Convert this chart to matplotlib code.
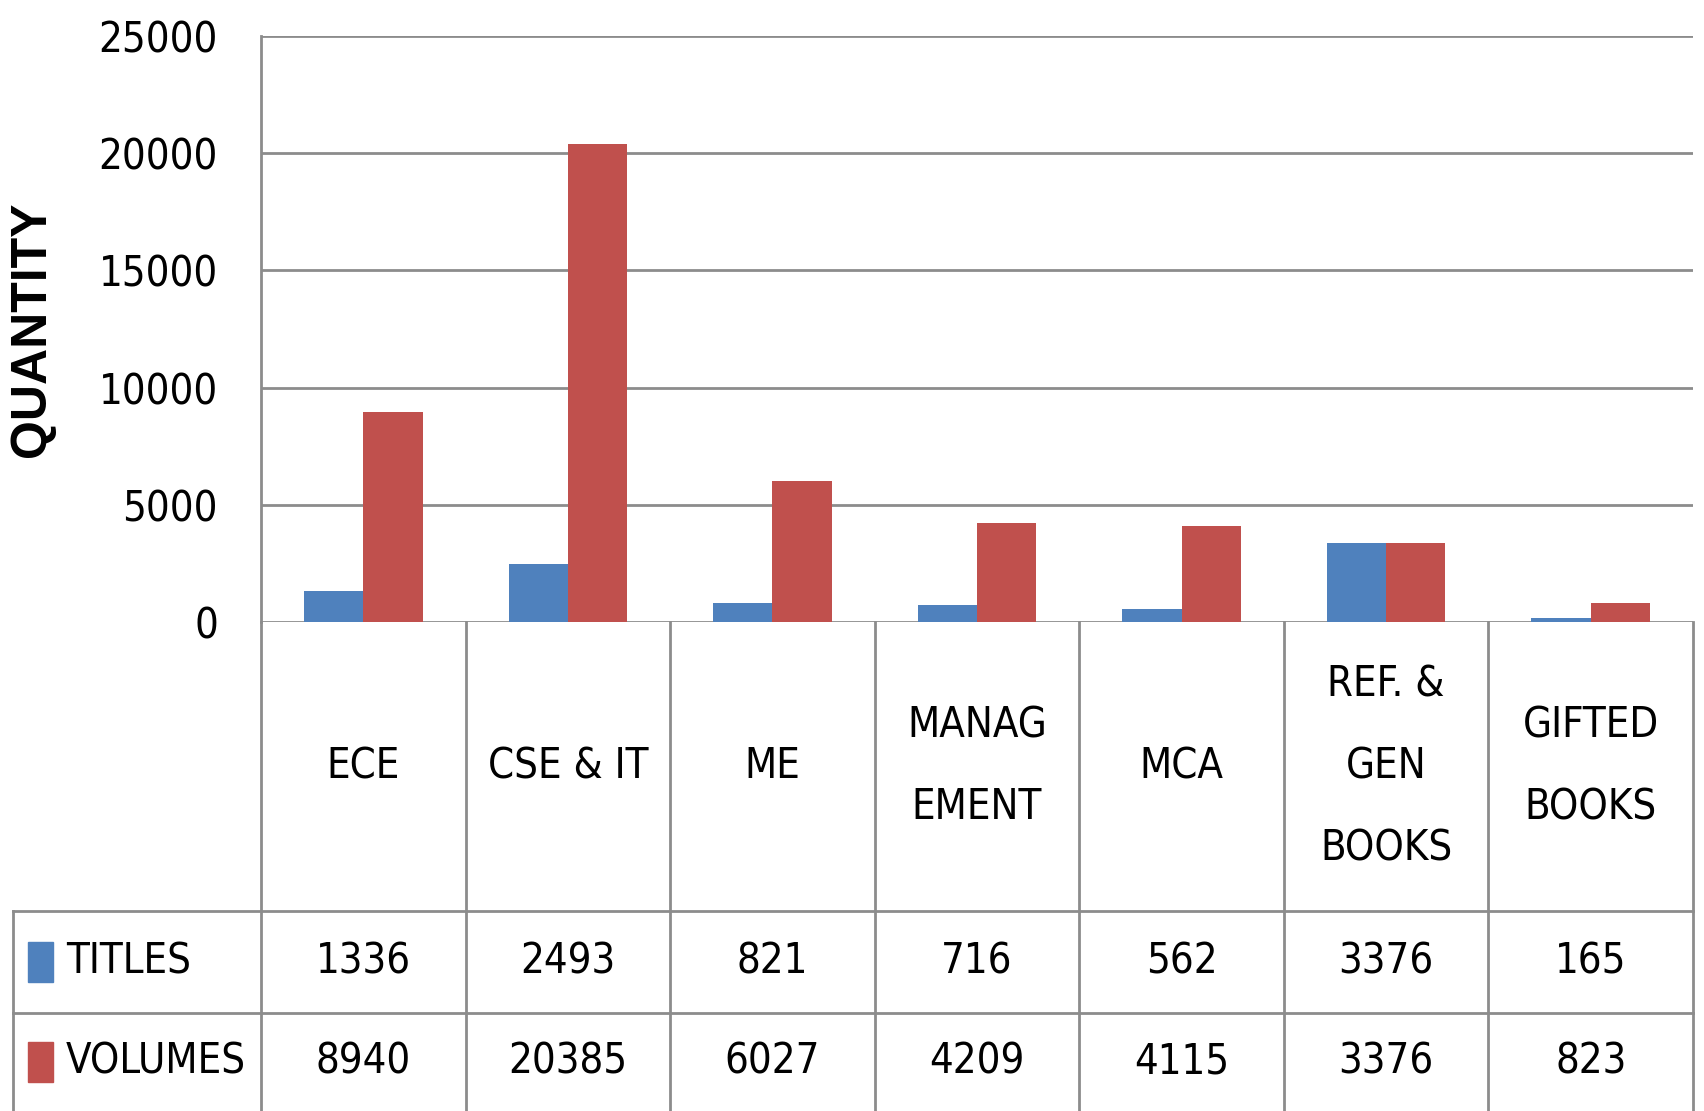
import numpy as np
import matplotlib.pyplot as plt
from matplotlib import font_manager
from matplotlib.patches import Rectangle

# library holdings per department (chart with data table)
categories = ['ECE', 'CSE & IT', 'ME', 'MANAG\nEMENT', 'MCA', 'REF. &\nGEN\nBOOKS', 'GIFTED\nBOOKS']
titles = [1336, 2493, 821, 716, 562, 3376, 165]
volumes = [8940, 20385, 6027, 4209, 4115, 3376, 823]
series_names = ['TITLES', 'VOLUMES']
y_ticks = [0, 5000, 10000, 15000, 20000, 25000]

BLUE = '#4F81BD'
RED = '#C0504D'
GRID = '#8C8C8C'

# narrow face if there is one, the reference text is tall and thin
fonts = font_manager.fontManager.ttflist
if any(f.name == 'Liberation Sans Narrow' for f in fonts):
    body = dict(family='Liberation Sans Narrow', fontsize=34)
    line_sp = 1.55
elif any(f.name == 'DejaVu Sans' and f.stretch == 'condensed' for f in fonts):
    body = dict(family='DejaVu Sans', stretch='condensed', fontsize=30)
    line_sp = 2.2
else:
    body = dict(family='Liberation Sans', fontsize=29)
    line_sp = 2.2

W, H = 1704, 1111
fig = plt.figure(figsize=(W / 100, H / 100), dpi=100)

# plot area in pixels: left 261, right 1693, top 36, zero line 622
left, right, top, zero = 261, 1693, 36, 622
ax = fig.add_axes([left / W, 1 - zero / H, (right - left) / W, (zero - top) / H])

x = np.arange(len(categories))
bw = 0.29
ax.bar(x - bw / 2, titles, bw, color=BLUE, zorder=3)
ax.bar(x + bw / 2, volumes, bw, color=RED, zorder=3)

ax.set_xlim(-0.5, len(categories) - 0.5)
ax.set_ylim(0, 25000)
ax.set_yticks(y_ticks)
ax.set_yticklabels([str(t) for t in y_ticks], **body)
ax.set_xticks([])
ax.yaxis.grid(True, color=GRID, lw=2)
ax.set_axisbelow(True)
for s in ['top', 'right', 'bottom']:
    ax.spines[s].set_visible(False)
ax.spines['left'].set_color(GRID)
ax.spines['left'].set_linewidth(2)
ax.tick_params(axis='y', length=0, pad=31)

fig.text(32 / W, 1 - 329 / H, 'QUANTITY', rotation=90, ha='center', va='center',
         family='Liberation Sans', fontweight='bold', fontsize=36)

# data table under the plot
per_px = len(categories) / (right - left)   # data units per pixel


def yf(py):
    return (zero - py) / (zero - top)


def xd(px):
    return -0.5 + (px - left) * per_px


tr = ax.get_xaxis_transform()
row_top, row_mid, row_bot = 911, 1013, 1111
table_left = xd(13)
edges = np.arange(-0.5, len(categories), 1.0)

for py in [row_top, row_mid]:
    ax.plot([table_left, edges[-1]], [yf(py)] * 2, color=GRID, lw=2,
            transform=tr, clip_on=False)
for e in edges:
    ax.plot([e, e], [yf(zero), yf(row_bot + 5)], color=GRID, lw=2,
            transform=tr, clip_on=False)
ax.plot([table_left] * 2, [yf(row_top), yf(row_bot + 5)], color=GRID, lw=2,
        transform=tr, clip_on=False)

for xi, cat in zip(x, categories):
    ax.text(xi, yf((zero + row_top) / 2), cat, transform=tr, ha='center', va='center',
            linespacing=line_sp, **body)

rows = [(series_names[0], titles, BLUE, (row_top + row_mid) / 2),
        (series_names[1], volumes, RED, (row_mid + row_bot) / 2)]
for name, vals, col, cy in rows:
    ax.add_patch(Rectangle((xd(28), yf(cy + 20)), 25 * per_px, 40 / (zero - top),
                           color=col, transform=tr, clip_on=False))
    ax.text(xd(66), yf(cy), name, transform=tr, ha='left', va='center', **body)
    for xi, v in zip(x, vals):
        ax.text(xi, yf(cy), str(v), transform=tr, ha='center', va='center', **body)

fig.savefig('out.png', dpi=100)
